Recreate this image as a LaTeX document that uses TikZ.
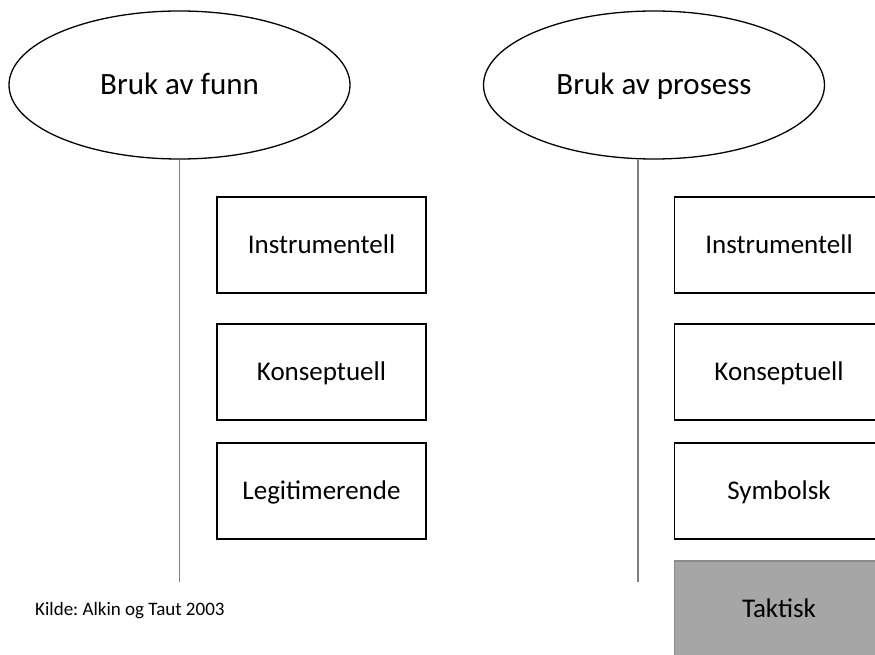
\documentclass[tikz,border=0pt]{standalone}
\usepackage{fontspec}
\setmainfont{Carlito}
\usetikzlibrary{shapes.geometric}
\frenchspacing
\definecolor{linegray}{HTML}{808080}
\definecolor{takfill}{HTML}{A6A6A6}
\definecolor{takdraw}{HTML}{8A8A8A}
\tikzset{
  ell/.style={ellipse, draw=black, line width=1.3pt, minimum width=341pt, minimum height=148pt, inner sep=0pt, text height=20pt, text depth=0pt, font=\fontsize{31}{36}\selectfont},
  catbox/.style={rectangle, draw=black, line width=1.6pt, minimum width=209pt, minimum height=96pt, inner sep=0pt, text height=17.5pt, text depth=0pt, font=\fontsize{27}{31}\selectfont},
  grayboxstyle/.style={catbox, fill=takfill, draw=takdraw},
  vline/.style={draw=linegray, line width=1.1pt},
}
\begin{document}
\begin{tikzpicture}[x=1pt, y=-1pt]
\useasboundingbox (0,0) rectangle (875,655);
\clip (0,0) rectangle (875,655);
\fill[white] (0,0) rectangle (875,655);
\node[ell] (e1) at (179.5,85) {Bruk av funn};
\node[ell] (e2) at (654,85) {Bruk av prosess};
\coordinate (lend) at (179.5,582);
\coordinate (rend) at (638,582);
\draw[vline] (e1.south) -- (lend);
\draw[vline] (e2.south -| rend) -- (rend);
\node[catbox] (l1) at (321.5,245) {Instrumentell};
\node[catbox] (l2) at (321.5,372) {Konseptuell};
\node[catbox] (l3) at (321.5,491) {Legitimerende};
\node[catbox] (r1) at (779,245) {Instrumentell};
\node[catbox] (r2) at (779,372) {Konseptuell};
\node[catbox] (r3) at (779,491) {Symbolsk};
\node[grayboxstyle] (r4) at (779,609) {Taktisk};
\node[anchor=base west, font=\fontsize{19}{22}\selectfont, inner sep=0pt] (src) at (35,615) {Kilde: Alkin og Taut 2003};
\end{tikzpicture}
\end{document}
